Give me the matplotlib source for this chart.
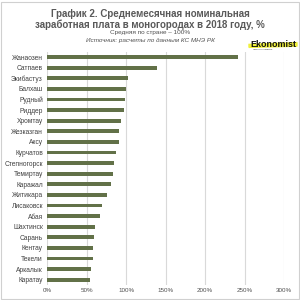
import matplotlib
matplotlib.use("Agg")
from matplotlib import pyplot as plt
from matplotlib.patches import Polygon, Rectangle

# data, top to bottom
cities = ["Жанаозен", "Сатпаев", "Экибастуз", "Балхаш", "Рудный", "Риддер",
          "Хромтау", "Жезказган", "Аксу", "Курчатов", "Степногорск", "Темиртау",
          "Каражал", "Житикара", "Лисаковск", "Абая", "Шахтинск", "Сарань",
          "Кентау", "Текели", "Аркалык", "Каратау"]
wages = [242, 139, 102.5, 99.5, 98.5, 97.5, 93.5, 91, 91, 87, 84.5, 84,
         81.5, 75.5, 70, 66.5, 60, 59.5, 58, 57.5, 55, 54]
ticks = [0, 50, 100, 150, 200, 250, 300]
tick_labels = ["0%", "50%", "100%", "150%", "200%", "250%", "300%"]

plt.rcParams['font.family'] = ['Liberation Sans', 'DejaVu Sans']

fig = plt.figure(figsize=(3, 3), dpi=100)
ax = fig.add_axes([0.157, 0.05, 0.79, 0.777])

pos = list(range(len(cities)))
ax.barh(pos, wages, height=0.36, color="#627148", zorder=3)
ax.set_ylim(len(cities) - 0.5, -0.5)
ax.set_yticks(pos)
ax.set_yticklabels(cities, fontsize=4.8, color="#404040")
ax.set_xlim(0, 300)
ax.set_xticks(ticks)
ax.set_xticklabels(tick_labels, fontsize=4.5, color="#505050")
ax.tick_params(axis="y", length=0, pad=3)
ax.tick_params(axis="x", length=0, pad=2)
ax.grid(axis="x", color="#d9d9d9", linewidth=0.8, zorder=0)
for s in ax.spines.values():
    s.set_visible(False)

fig.text(0.5, 0.936, "График 2. Среднемесячная номинальная\nзаработная плата в моногородах в 2018 году, %",
         ha="center", va="center", fontsize=7, fontweight="bold", color="#595959",
         linespacing=1.1)
fig.text(0.5, 0.892, "Средняя по стране – 100%", ha="center", va="center",
         fontsize=4.6, color="#505050")
fig.text(0.5, 0.866, "Источник: расчеты по данным КС МНЭ РК", ha="center", va="center",
         fontsize=4.6, color="#505050", style="italic")

# logo
fig.patches.append(Polygon([(0.83, 0.842), (0.99, 0.846), (0.99, 0.858), (0.83, 0.852)],
                           closed=True, transform=fig.transFigure,
                           color="#f0f03c", zorder=1))
fig.text(0.91, 0.853, "Ekonomist", ha="center", va="center", fontsize=6.4,
         fontweight="bold", color="#111111", zorder=2)
fig.text(0.875, 0.834, "газета экономиста", ha="center", va="center", fontsize=1.6,
         color="#333333")

# outer frame
fig.patches.append(Rectangle((0.003, 0.005), 0.994, 0.99, transform=fig.transFigure,
                             fill=False, edgecolor="#d0d0d0", linewidth=0.8))

fig.savefig("out.png", dpi=100, facecolor="white")
